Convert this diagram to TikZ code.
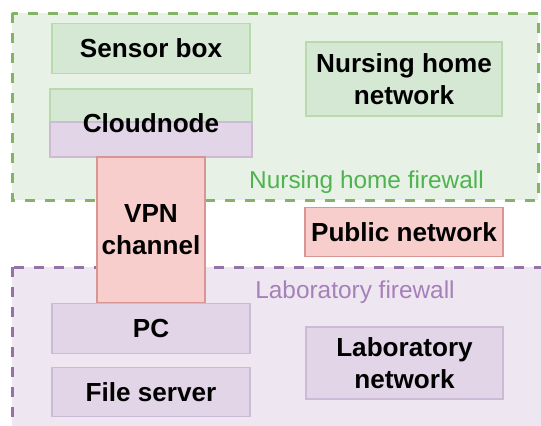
\documentclass[tikz,border=0pt]{standalone}
\usepackage{fontspec}
\setmainfont{Liberation Sans}
\definecolor{NurseFill}{HTML}{D5E8D4}
\definecolor{NurseLine}{HTML}{82B366}
\definecolor{NurseZone}{HTML}{E7F1E5}
\definecolor{NurseEdge}{HTML}{B9DAAB}
\definecolor{NurseText}{HTML}{4FB350}
\definecolor{LabFill}{HTML}{E1D5E7}
\definecolor{LabLine}{HTML}{9673A6}
\definecolor{LabZone}{HTML}{EEE6F1}
\definecolor{LabEdge}{HTML}{CDBAD6}
\definecolor{LabText}{HTML}{A680B8}
\definecolor{PubFill}{HTML}{F8CECC}
\definecolor{PubEdge}{HTML}{D99593}

\tikzset{
  zone/.style={line width=2.25pt, dash pattern=on 7.5pt off 7.5pt},
  unit/.style={inner sep=0pt, line width=0.8pt, align=center, font=\fontsize{19.6}{24}\selectfont\bfseries},
  nursebox/.style={unit, fill=NurseFill, draw=NurseEdge},
  labbox/.style={unit, fill=LabFill, draw=LabEdge},
  pubbox/.style={unit, fill=PubFill, draw=PubEdge},
  wide/.style={minimum width=148.5pt, minimum height=37pt},
  wall/.style={inner sep=0pt, anchor=base, font=\fontsize{18.3}{22}\selectfont},
}

\begin{document}
\begin{tikzpicture}[x=0.75pt,y=0.75pt,yscale=-1,xscale=1]
		\useasboundingbox (0,0) rectangle (541,425);

		% Firewall zones
		\draw[zone, draw=NurseLine, fill=NurseZone] (12,13) rectangle (538,200);
		\begin{scope}
			\clip (0,0) rectangle (541,425);
			\draw[zone, draw=LabLine, fill=LabZone] (12,267) rectangle (560,445);
		\end{scope}

		% Zone labels
		\node[wall, text=NurseText] (nursewall) at (366.5,188) {Nursing home firewall};
		\node[wall, text=LabText] (labwall) at (355,298) {Laboratory firewall};

		% Nursing home side
		\node[nursebox, wide] (sensor) at (151,48.5) {Sensor box};
		\node[nursebox, minimum width=147pt, minimum height=55.5pt] (nursenet) at (404,79) {Nursing home\\network};

		% Cloudnode sits on both networks
		\node[nursebox, minimum width=151.5pt, minimum height=24.75pt] (cloudtop) at (151,105.5) {};
		\node[labbox, minimum width=151.5pt, minimum height=26.25pt] (cloudbot) at (151,139.5) {};
		\node[unit] (cloud) at (151,123) {Cloudnode};

		% Public side
		\node[pubbox, minimum width=81pt, minimum height=109.5pt] (vpn) at (151,230) {VPN\\channel};
		\node[pubbox, wide] (public) at (404,232) {Public network};

		% Laboratory side
		\node[labbox, wide] (pc) at (151,328.5) {PC};
		\node[labbox, wide] (fileserver) at (151,392) {File server};
		\node[labbox, minimum width=147.75pt, minimum height=54pt] (labnet) at (404.5,363) {Laboratory\\network};
	\end{tikzpicture}
\end{document}
